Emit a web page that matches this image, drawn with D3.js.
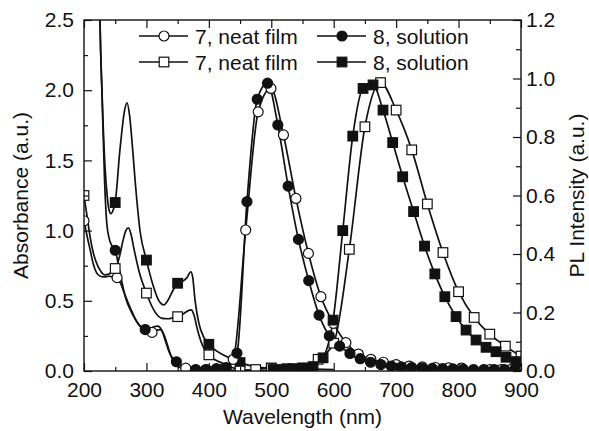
<!DOCTYPE html>
<html>
<head>
<meta charset="utf-8">
<script src="https://cdn.jsdelivr.net/npm/d3@7"></script>
<style>
body { margin: 0; background: #fff; }
svg text { font-family: "Liberation Sans", Arial, sans-serif; fill: #111; }
</style>
</head>
<body>
<svg width="589" height="431"></svg>
<script>
// tick values
var xTicks = [200, 300, 400, 500, 600, 700, 800, 900];
var xMinor = [250, 350, 450, 550, 650, 750, 850];
var yLeftTicks = [0, 0.5, 1.0, 1.5, 2.0, 2.5];
var yLeftMinor = [0.25, 0.75, 1.25, 1.75, 2.25];
var yRightTicks = [0, 0.2, 0.4, 0.6, 0.8, 1.0, 1.2];
var yRightMinor = [0.1, 0.3, 0.5, 0.7, 0.9, 1.1];

var legendLabels = ["7, neat film", "8, solution", "7, neat film", "8, solution"];

// absorbance curves (left axis): [wavelength, absorbance]
var absOpenCircle = [[200,1.07],[205,0.96],[210,0.86],[215,0.76],[220,0.7],[226,0.675],[232,0.67],[240,0.675],[246,0.67],[252,0.665],[258,0.63],[265,0.55],[275,0.44],[286,0.34],[296,0.295],[303,0.28],[309,0.275],[316,0.29],[322,0.295],[328,0.26],[334,0.18],[340,0.1],[346,0.05],[352,0.028],[363,0.02],[380,0.01],[420,0.005],[480,0]];
var absOpenCircleMarks = [[200,1.07],[253,0.665],[309,0.275],[363,0.02]];

var absFilledCircle = [[224,3.0],[225.6,2.5],[229,1.95],[233,1.35],[236,1.08],[240,0.95],[245,0.89],[250,0.86],[255,0.76],[260,0.65],[266,0.53],[277,0.41],[288,0.33],[298,0.295],[305,0.3],[312,0.315],[318,0.32],[324,0.295],[330,0.22],[336,0.14],[342,0.09],[348,0.066],[355,0.04],[365,0.02],[380,0.012],[397,0.008],[420,0.005],[450,0.003],[500,0]];
var absFilledCircleMarks = [[250,0.86],[298,0.295],[348,0.066],[397,0.008]];

var absOpenSquare = [[200,1.25],[205,1.1],[210,0.95],[215,0.84],[220,0.77],[227,0.71],[233,0.685],[240,0.69],[245,0.71],[250,0.73],[256,0.8],[262,0.92],[267,1.0],[271,1.02],[275,0.98],[280,0.87],[290,0.68],[300,0.555],[310,0.45],[318,0.395],[325,0.375],[335,0.372],[343,0.38],[350,0.387],[360,0.41],[367,0.43],[372,0.435],[376,0.4],[382,0.29],[390,0.18],[400,0.115],[425,0.05],[450,0.01],[500,0]];
var absOpenSquareMarks = [[200,1.25],[250,0.73],[300,0.555],[350,0.387],[400,0.115]];

var absFilledSquare = [[224,3.0],[225.6,2.5],[229,1.97],[233.6,1.46],[237.3,1.24],[240,1.15],[243,1.12],[247,1.15],[250,1.2],[253,1.33],[256,1.5],[260,1.68],[264,1.83],[269,1.91],[273,1.82],[277,1.63],[282,1.35],[290,0.99],[300,0.79],[310,0.62],[320,0.5],[328,0.47],[334,0.5],[342,0.57],[350,0.625],[358,0.64],[365,0.665],[371,0.707],[374,0.67],[378,0.5],[384,0.34],[392,0.24],[400,0.19],[425,0.11],[450,0.06],[475,0.03],[500,0.02],[550,0.015],[600,0.01]];
var absFilledSquareMarks = [[250,1.2],[300,0.79],[350,0.625],[400,0.19],[450,0.06],[500,0.02],[550,0.015]];

// PL curves (right axis): [wavelength, intensity]
var plFilledCircle = [[379,0.005],[395,0.005],[412,0.008],[428,0.012],[445,0.061],[461,0.579],[477.5,0.929],[494,0.984],[510.5,0.841],[527,0.632],[543.5,0.45],[560,0.309],[576.5,0.191],[593,0.12],[609.5,0.085],[626,0.06],[642.5,0.042],[659,0.03],[675.5,0.022],[692,0.017],[708.5,0.014],[725,0.012],[741.5,0.01],[758,0.009],[774.5,0.008],[791,0.007],[807.5,0.006],[824,0.005],[840.5,0.005],[857,0.005],[873.5,0.005],[890,0.005]];
var plOpenCircle = [[399,0],[419,0.005],[439,0.04],[459,0.482],[479,0.886],[499.5,0.966],[519.5,0.807],[539.5,0.59],[559.5,0.402],[579.5,0.254],[599.5,0.163],[619.5,0.097],[639.5,0.058],[659.5,0.04],[679.5,0.03],[700,0.022],[721,0.017],[742,0.014],[763,0.012],[784,0.011],[805,0.01],[850,0.005],[868,0.005],[887,0.01]];
var plFilledSquare = [[503,0.005],[519,0.005],[535,0.008],[551,0.01],[567,0.015],[583,0.045],[599,0.174],[614.5,0.48],[630.5,0.803],[647,0.966],[663,0.978],[679,0.892],[694.5,0.781],[710.5,0.664],[728,0.545],[745.5,0.427],[762,0.332],[778,0.254],[796,0.186],[812,0.14],[828,0.106],[844,0.081],[860,0.066],[876,0.047],[892,0.032]];
var plOpenSquare = [[450,0],[475,0.005],[500,0.01],[525,0.008],[550,0.01],[575,0.04],[600,0.095],[625,0.416],[650,0.835],[675,0.986],[700,0.892],[725,0.756],[750,0.571],[775,0.405],[800,0.271],[825,0.183],[850,0.126],[875,0.085],[900,0.051]];

var svg = d3.select("svg"),
    margin = {top: 20, right: 68, bottom: 60, left: 84},
    width = +svg.attr("width") - margin.left - margin.right,
    height = +svg.attr("height") - margin.top - margin.bottom,
    g = svg.append("g").attr("transform", "translate(" + margin.left + "," + margin.top + ")");

var x = d3.scaleLinear().domain([200, 900]).range([0, width]);
var yL = d3.scaleLinear().domain([0, 2.5]).range([height, 0]);
var yR = d3.scaleLinear().domain([0, 1.2]).range([height, 0]);

svg.append("defs").append("clipPath").attr("id", "plot")
  .append("rect").attr("width", width).attr("height", height);

var series = [
  {line: absOpenCircle, marks: absOpenCircleMarks, y: yL, shape: "circle", fill: "#fff"},
  {line: absFilledCircle, marks: absFilledCircleMarks, y: yL, shape: "circle", fill: "#111"},
  {line: absOpenSquare, marks: absOpenSquareMarks, y: yL, shape: "square", fill: "#fff"},
  {line: absFilledSquare, marks: absFilledSquareMarks, y: yL, shape: "square", fill: "#111"},
  {line: plOpenSquare, marks: plOpenSquare, y: yR, shape: "square", fill: "#fff"},
  {line: plOpenCircle, marks: plOpenCircle, y: yR, shape: "circle", fill: "#fff"},
  {line: plFilledSquare, marks: plFilledSquare, y: yR, shape: "square", fill: "#111"},
  {line: plFilledCircle, marks: plFilledCircle, y: yR, shape: "circle", fill: "#111"}
];

var plot = g.append("g").attr("clip-path", "url(#plot)");

function drawMarks(sel, data, shape, fill, px, py) {
  if (shape == "circle") {
    sel.selectAll(null).data(data).enter().append("circle")
      .attr("cx", px).attr("cy", py).attr("r", 5)
      .attr("fill", fill).attr("stroke", "#111").attr("stroke-width", 1.2);
  } else {
    sel.selectAll(null).data(data).enter().append("rect")
      .attr("x", function(d) { return px(d) - 4.8; })
      .attr("y", function(d) { return py(d) - 4.8; })
      .attr("width", 9.6).attr("height", 9.6)
      .attr("fill", fill).attr("stroke", "#111").attr("stroke-width", 1.2);
  }
}

series.forEach(function(s) {
  var line = d3.line()
      .x(function(d) { return x(d[0]); })
      .y(function(d) { return s.y(d[1]); })
      .curve(d3.curveMonotoneX);
  plot.append("path")
      .datum(s.line)
      .attr("fill", "none")
      .attr("stroke", "#111")
      .attr("stroke-width", 1.7)
      .attr("d", line);
});

series.forEach(function(s) {
  drawMarks(plot.append("g"), s.marks, s.shape, s.fill,
    function(d) { return x(d[0]); }, function(d) { return s.y(d[1]); });
});

// axes, ticks pointing inward
function styleAxis(a) {
  a.select(".domain").remove();
  a.selectAll("line").attr("stroke", "#111").attr("stroke-width", 1.2);
  a.selectAll("text").attr("font-size", 21).attr("font-family", null);
}

g.append("g").attr("transform", "translate(0," + height + ")")
  .call(d3.axisBottom(x).tickValues(xTicks).tickSize(-8).tickPadding(11).tickFormat(d3.format("d")))
  .call(styleAxis);
g.append("g").attr("transform", "translate(0," + height + ")")
  .call(d3.axisBottom(x).tickValues(xMinor).tickSize(-4).tickFormat(""))
  .call(styleAxis);
g.append("g")
  .call(d3.axisTop(x).tickValues(xTicks).tickSize(-8).tickFormat(""))
  .call(styleAxis);
g.append("g")
  .call(d3.axisTop(x).tickValues(xMinor).tickSize(-4).tickFormat(""))
  .call(styleAxis);

g.append("g")
  .call(d3.axisLeft(yL).tickValues(yLeftTicks).tickSize(-8).tickPadding(10).tickFormat(d3.format(".1f")))
  .call(styleAxis);
g.append("g")
  .call(d3.axisLeft(yL).tickValues(yLeftMinor).tickSize(-4).tickFormat(""))
  .call(styleAxis);

g.append("g").attr("transform", "translate(" + width + ",0)")
  .call(d3.axisRight(yR).tickValues(yRightTicks).tickSize(-8).tickPadding(5).tickFormat(d3.format(".1f")))
  .call(styleAxis);
g.append("g").attr("transform", "translate(" + width + ",0)")
  .call(d3.axisRight(yR).tickValues(yRightMinor).tickSize(-5).tickFormat(""))
  .call(styleAxis);

g.append("rect")
  .attr("width", width).attr("height", height)
  .attr("fill", "none").attr("stroke", "#111").attr("stroke-width", 1.4);

// axis titles
svg.append("text")
  .attr("x", margin.left + width / 2).attr("y", 424)
  .attr("text-anchor", "middle").attr("font-size", 21)
  .text("Wavelength (nm)");
svg.append("text")
  .attr("transform", "translate(28," + (margin.top + height / 2) + ") rotate(-90)")
  .attr("text-anchor", "middle").attr("font-size", 21)
  .text("Absorbance (a.u.)");
svg.append("text")
  .attr("transform", "translate(584," + (margin.top + height / 2) + ") rotate(-90)")
  .attr("text-anchor", "middle").attr("font-size", 21)
  .text("PL Intensity (a.u.)");

// legend
var legendItems = [
  {label: legendLabels[0], shape: "circle", fill: "#fff", lx: 139, ly: 36},
  {label: legendLabels[1], shape: "circle", fill: "#111", lx: 317, ly: 36},
  {label: legendLabels[2], shape: "square", fill: "#fff", lx: 139, ly: 62},
  {label: legendLabels[3], shape: "square", fill: "#111", lx: 317, ly: 62}
];
var legend = svg.append("g");
legendItems.forEach(function(d) {
  legend.append("line")
    .attr("x1", d.lx).attr("x2", d.lx + 49)
    .attr("y1", d.ly).attr("y2", d.ly)
    .attr("stroke", "#111").attr("stroke-width", 1.7);
  drawMarks(legend.append("g"), [d], d.shape, d.fill,
    function(e) { return e.lx + 25; }, function(e) { return e.ly; });
  legend.append("text")
    .attr("x", d.lx + 56).attr("y", d.ly + 7.5)
    .attr("font-size", 21)
    .text(d.label);
});
</script>
</body>
</html>
